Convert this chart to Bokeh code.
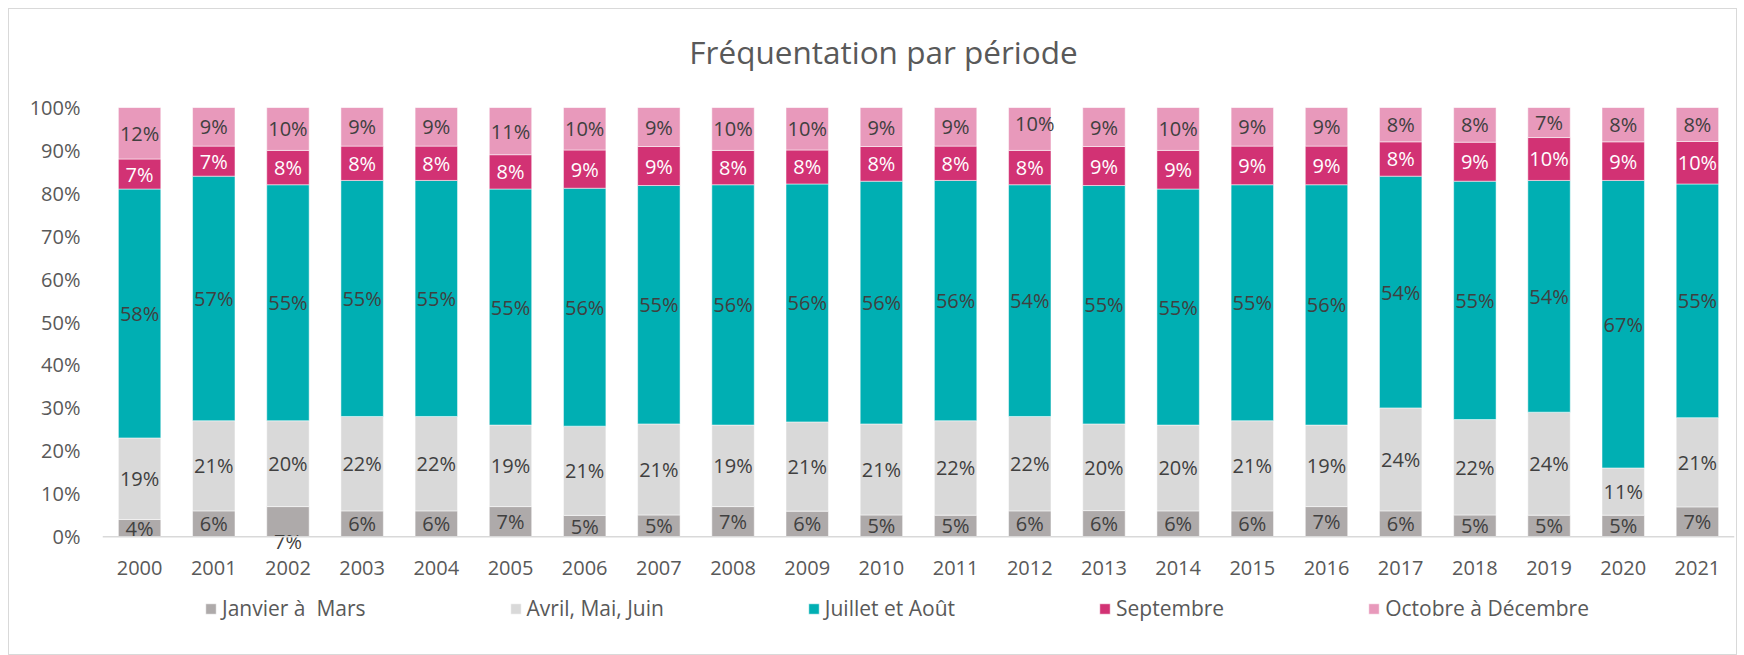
import numpy as np
from bokeh.plotting import figure
from bokeh.layouts import column
from bokeh.models import (ColumnDataSource, FactorRange, Range1d, NumeralTickFormatter,
                          Legend, LegendItem, FixedTicker, Span, Label)
from bokeh.core.properties import value
from bokeh.embed import file_html
from bokeh.resources import INLINE

# ---------------- data ----------------
title_text = "Fréquentation par période"
years = [str(y) for y in range(2000, 2022)]
series_names = ["Janvier à  Mars", "Avril, Mai, Juin", "Juillet et Août", "Septembre", "Octobre à Décembre"]
janvier_mars = [4, 6, 7, 6, 6, 7, 5, 5, 7, 6, 5, 5, 6, 6, 6, 6, 7, 6, 5, 5, 5, 7]
avril_juin = [19, 21, 20, 22, 22, 19, 21, 21, 19, 21, 21, 22, 22, 20, 20, 21, 19, 24, 22, 24, 11, 21]
juillet_aout = [58, 57, 55, 55, 55, 55, 56, 55, 56, 56, 56, 56, 54, 55, 55, 55, 56, 54, 55, 54, 67, 55]
septembre = [7, 7, 8, 8, 8, 8, 9, 9, 8, 8, 8, 8, 8, 9, 9, 9, 9, 8, 9, 10, 9, 10]
octobre_decembre = [12, 9, 10, 9, 9, 11, 10, 9, 10, 10, 9, 9, 10, 9, 10, 9, 9, 8, 8, 7, 8, 8]
y_ticks = [0.0, 0.1, 0.2, 0.3, 0.4, 0.5, 0.6, 0.7, 0.8, 0.9, 1.0]

# ---------------- styles ----------------
colors = ["#AEAAAA", "#D9D9D9", "#00AFB3", "#D23274", "#E899BB"]
label_colors = ["#404040", "#404040", "#404040", "#FFFFFF", "#404040"]
# manual label nudges (screen px) as in the original
nudges = {(0, "2002"): (0, 20), (4, "2012"): (5, -5)}
FONT = "Open Sans"
W = 1727

series = [janvier_mars, avril_juin, juillet_aout, septembre, octobre_decembre]
arr = np.array(series, dtype=float)
frac = arr / arr.sum(axis=0)
cum = np.cumsum(frac, axis=0)
mid = cum - frac / 2

keys = ["s%d" % i for i in range(len(series))]
src = ColumnDataSource(dict(year=years, **{k: frac[i] for i, k in enumerate(keys)}))

def blank(height, **kw):
    f = figure(width=W, height=height, output_backend="svg", toolbar_location=None,
               x_axis_location=None, y_axis_location=None,
               min_border_left=0, min_border_right=0, min_border_top=0, min_border_bottom=0, **kw)
    f.outline_line_color = None
    f.grid.visible = False
    return f

# ---------------- header (title) ----------------
hd = blank(83, x_range=Range1d(0, 1), y_range=Range1d(0, 1))
hd.add_layout(Label(x=781, y=41, x_units="screen", y_units="screen", text=title_text,
                    text_align="center", text_baseline="alphabetic",
                    text_font=FONT, text_font_size="31.5px", text_color="#595959"))

# ---------------- main chart ----------------
p = figure(x_range=FactorRange(*years), y_range=Range1d(-0.03, 1),
           width=W, height=498, output_backend="svg", toolbar_location=None,
           min_border_left=93, min_border_right=2, min_border_top=15, min_border_bottom=41)
p.outline_line_color = None
p.xgrid.grid_line_color = None
p.ygrid.grid_line_color = None
p.x_range.range_padding = 0

renderers = p.vbar_stack(keys, x="year", width=0.572, source=src,
                         fill_color=colors, line_color="white", line_width=1, line_alpha=0.5)

for i in range(len(series)):
    xo = [nudges.get((i, y), (0, 0))[0] for y in years]
    yo = [nudges.get((i, y), (0, 0))[1] for y in years]
    lsrc = ColumnDataSource(dict(year=years, y=mid[i], txt=["%d%%" % v for v in series[i]],
                                 xo=xo, yo=yo))
    p.text(x="year", y="y", text="txt", source=lsrc, x_offset="xo", y_offset="yo",
           text_align="center", text_baseline="middle", text_color=label_colors[i],
           text_font=value(FONT), text_font_size="20px")

p.add_layout(Span(location=0, dimension="width", line_color="#D9D9D9", line_width=1.5))

p.yaxis.ticker = FixedTicker(ticks=y_ticks)
p.yaxis.formatter = NumeralTickFormatter(format="0%")
p.yaxis.axis_line_color = None
p.yaxis.major_tick_line_color = None
p.yaxis.minor_tick_line_color = None
p.yaxis.major_tick_out = 0
p.yaxis.major_tick_in = 0
p.yaxis.major_label_standoff = 22
p.xaxis.axis_line_color = None
p.xaxis.major_tick_line_color = None
p.xaxis.major_tick_out = 0
p.xaxis.major_tick_in = 0
p.xaxis.major_label_standoff = 11
for ax in (p.xaxis[0], p.yaxis[0]):
    ax.major_label_text_font = FONT
    ax.major_label_text_font_size = "20px"
    ax.major_label_text_color = "#595959"

# ---------------- legend strip ----------------
lg = blank(64, x_range=FactorRange(*years), y_range=Range1d(2, 3))
lg_renderers = lg.vbar_stack(keys, x="year", width=0.572, source=src,
                             fill_color=colors, line_color="white", line_width=1, line_alpha=0.5)
items = [LegendItem(label=series_names[i], renderers=[lg_renderers[i]]) for i in range(len(series))]
legend = Legend(items=items, orientation="horizontal", location=(102, 32),
                spacing=143, padding=0, margin=0, label_standoff=5,
                glyph_width=13, glyph_height=13,
                label_text_font=FONT, label_text_font_size="21px", label_text_color="#595959",
                border_line_color=None, background_fill_alpha=0)
lg.add_layout(legend, "center")

layout = column(hd, p, lg, spacing=0)
layout.styles = {"margin-left": "8px", "margin-top": "8px", "border": "1px solid #D9D9D9"}

open("out.html", "w").write(file_html(layout, INLINE))
